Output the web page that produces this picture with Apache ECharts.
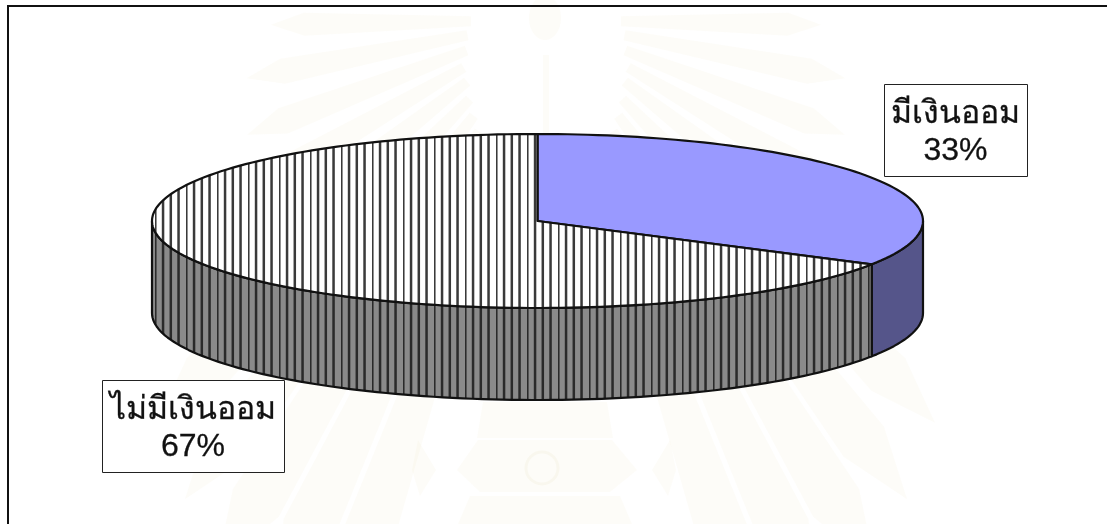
<!DOCTYPE html>
<html>
<head>
<meta charset="utf-8">
<style>html,body{margin:0;padding:0;background:#fff}#c{width:1107px;height:524px}</style>
<script src="https://cdn.jsdelivr.net/npm/echarts@6/dist/echarts.min.js"></script>
</head>
<body>
<div id="c"></div>
<script>
// data
const categories = ['มีเงินออม', 'ไม่มีเงินออม'];
const savingsShare = [33.3, 66.7];

// layout
const PIE = { cx: 537.5, cy: 221, rx: 385.5, ry: 87, depth: 92 };
const LABEL_BOXES = [
  { x: 884, y: 84, w: 143, h: 92 },
  { x: 102, y: 380, w: 182, h: 92 }
];
const FONT = '"Liberation Sans", Arial, "DejaVu Sans", "Noto Sans", sans-serif';

function hatch(bg, line) {
  // four lines every 7.75px, phase locked to the page so top and side line up
  const cv = document.createElement('canvas');
  cv.width = 31; cv.height = 8;
  const g = cv.getContext('2d');
  g.fillStyle = bg; g.fillRect(0, 0, 31, 8);
  g.fillStyle = line;
  [8, 15.75, 23.5, 0.25].forEach(function (x) { g.fillRect(x - 1.2, 0, 2.5, 8); });
  return { image: cv, repeat: 'repeat' };
}
const STYLES = [
  { top: '#9999ff', side: '#55558a' },
  { top: hatch('#ffffff', '#3a3a3a'), side: hatch('#8a8a8a', '#2a2a2a') }
];

function pt(deg, dy) { // deg: clockwise from 12 o'clock
  const a = (deg - 90) * Math.PI / 180;
  return [PIE.cx + PIE.rx * Math.cos(a), PIE.cy + PIE.ry * Math.sin(a) + (dy || 0)];
}
function arc(a, b, dy) {
  const n = Math.max(2, Math.ceil(Math.abs(b - a) / 1.5));
  const out = [];
  for (let i = 0; i <= n; i++) out.push(pt(a + (b - a) * i / n, dy));
  return out;
}

const total = savingsShare.reduce(function (s, v) { return s + v; }, 0);

function renderItem(params, api) {
  const i = params.dataIndex;
  let before = 0;
  for (let k = 0; k < i; k++) before += savingsShare[k];
  const start = before / total * 360;
  const end = start + api.value(1) / total * 360;
  const kids = [];
  const lineStyle = { stroke: '#111', lineWidth: 2.2, lineJoin: 'round' };

  // visible wall: front half of the rim, 90deg..270deg
  const s = Math.max(start, 90), e = Math.min(end, 270);
  if (e > s) {
    const up = arc(s, e, 0), down = arc(e, s, PIE.depth);
    kids.push({
      type: 'polygon',
      shape: { points: up.concat(down) },
      style: Object.assign({ fill: STYLES[i].side }, lineStyle)
    });
  }
  // top face
  kids.push({
    type: 'polygon',
    shape: { points: [[PIE.cx, PIE.cy]].concat(arc(start, end, 0)) },
    style: Object.assign({ fill: STYLES[i].top }, lineStyle)
  });
  // label
  const b = LABEL_BOXES[i];
  kids.push({
    type: 'rect',
    shape: { x: b.x + 0.5, y: b.y + 0.5, width: b.w, height: b.h },
    style: { fill: '#fff', stroke: '#222', lineWidth: 1 },
    z2: 5
  });
  kids.push({
    type: 'text',
    x: b.x + b.w / 2, y: b.y + b.h / 2 + 3,
    style: {
      text: categories[i] + '\n' + Math.round(api.value(1)) + '%',
      font: '32px ' + FONT,
      fontSize: 32,
      lineHeight: 37,
      fill: '#111',
      stroke: '#111',
      lineWidth: 0.3,
      align: 'center',
      verticalAlign: 'middle'
    },
    z2: 6
  });
  return { type: 'group', children: kids };
}

// faint watermark behind the chart
function watermark() {
  const ink = 'rgba(214,204,140,0.06)';
  const apex = [546, 20], els = [];
  const rays = [
    [1, 75, 275], [11, 80, 305], [21, 85, 320], [30, 95, 340], [38, 100, 360],
    [46, 110, 560], [53, 120, 600], [59, 130, 640], [65, 140, 640], [71, 150, 640]
  ];
  [1, -1].forEach(function (sgn) {
    rays.forEach(function (r) {
      const a = r[0] * Math.PI / 180;
      const ux = sgn * Math.cos(a), uy = Math.sin(a), nx = -uy, ny = ux;
      const P = function (d, w) { return [apex[0] + ux * d + nx * w, apex[1] + uy * d + ny * w]; };
      const far = r[2], w0 = 5, w1 = far * 0.042;
      els.push({
        type: 'polygon', silent: true, z: -2,
        shape: { points: [P(r[1], w0), P(far * 0.88, w1), P(far, 0), P(far * 0.88, -w1), P(r[1], -w0)] },
        style: { fill: ink, shadowBlur: 6, shadowColor: ink }
      });
    });
  });
  const ghost = [
    { type: 'ellipse', shape: { cx: 545, cy: 18, rx: 16, ry: 22 } },
    { type: 'rect', shape: { x: 543, y: 55, width: 6, height: 80 } },
    { type: 'polygon', shape: { points: [[483, 402], [607, 402], [613, 438], [477, 438]] } },
    { type: 'polygon', shape: { points: [[478, 440], [612, 440], [637, 470], [610, 492], [480, 492], [457, 470]] } },
    { type: 'polygon', shape: { points: [[470, 496], [620, 496], [632, 524], [458, 524]] } },
    { type: 'polygon', shape: { points: [[418, 440], [436, 470], [420, 496], [412, 470]] } },
    { type: 'polygon', shape: { points: [[670, 440], [676, 470], [668, 496], [652, 470]] } }
  ];
  ghost.forEach(function (g) {
    g.silent = true; g.z = -2;
    g.style = { fill: ink, shadowBlur: 5, shadowColor: ink };
    els.push(g);
  });
  els.push({
    type: 'circle', silent: true, z: -1,
    shape: { cx: 542, cy: 468, r: 16 },
    style: { fill: 'none', stroke: 'rgba(200,190,130,0.08)', lineWidth: 3 }
  });
  return els;
}

const frame = [
  { type: 'rect', silent: true, z: 10, shape: { x: 7, y: 5, width: 1100, height: 2 }, style: { fill: '#111' } },
  { type: 'rect', silent: true, z: 10, shape: { x: 7, y: 5, width: 2, height: 519 }, style: { fill: '#111' } }
];

const chart = echarts.init(document.getElementById('c'), null, { renderer: 'canvas', width: 1107, height: 524 });
chart.setOption({
  animation: false,
  backgroundColor: '#ffffff',
  graphic: { elements: watermark().concat(frame) },
  series: [{
    type: 'custom',
    coordinateSystem: 'none',
    silent: true,
    renderItem: renderItem,
    data: categories.map(function (c, i) { return [c, savingsShare[i]]; }),
    encode: { value: 1 }
  }]
});
</script>
</body>
</html>
